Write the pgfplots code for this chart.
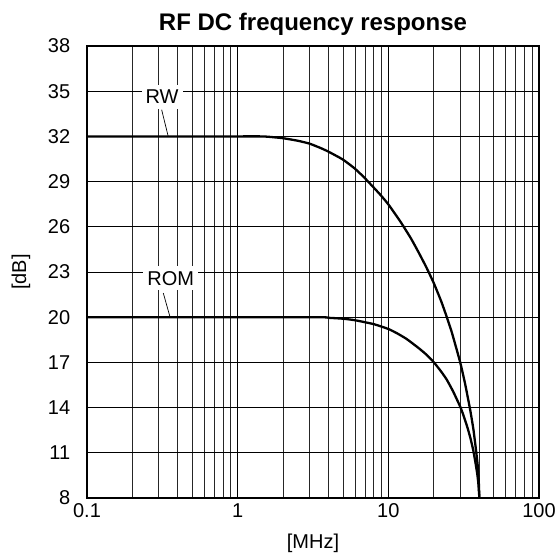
\documentclass[border=0pt]{standalone}
\usepackage{pgfplots}
\pgfplotsset{compat=1.18}
\usepackage{fontspec}
\setmainfont{Liberation Sans}
\begin{document}
\fontsize{20bp}{24bp}\selectfont
\begin{tikzpicture}
\begin{semilogxaxis}[
  scale only axis,
  width=452bp, height=452bp,
  xmin=0.1, xmax=100, ymin=8, ymax=38,
  ytick={8,11,14,17,20,23,26,29,32,35,38},
  xtick={0.1,1,10,100},
  xticklabels={0.1,1,10,100},
  grid=both,
  major grid style={black, line width=0.8pt},
  minor grid style={black!85, line width=0.8pt},
  major tick length=0pt, minor tick length=0pt,
  axis line style={black, line width=1.6pt},
  /pgf/number format/assume math mode=true,
  tick label style={font=\fontsize{20bp}{24bp}\selectfont},
  xticklabel style={yshift=1bp},
  yticklabel style={xshift=-10bp},
  title={\textbf{RF DC frequency response}},
  title style={font=\fontsize{24bp}{28bp}\selectfont, yshift=-2bp},
  xlabel={[MHz]}, ylabel={[dB]},
  xlabel style={font=\fontsize{20bp}{24bp}\selectfont, yshift=-2bp},
  ylabel style={font=\fontsize{20bp}{24bp}\selectfont, yshift=4bp},
  clip=true,
]
\addplot[black, line width=2.3pt, smooth, tension=0.3] coordinates {
 (0.1,32) (1.0,32) (1.41,32.0) (1.58,31.98) (2.0,31.88) (2.51,31.71) (3.0,31.52)
 (3.55,31.23) (4.0,30.99) (5.0,30.46) (6.0,29.86) (7.0,29.22) (8.79,28.16)
 (10,27.49) (12,26.36) (14.13,25.23) (15.85,24.32) (17.78,23.36) (20,22.28)
 (22.39,21.08) (23.99,20.24) (26.3,19.04) (30,17.0) (32.36,15.56) (35,13.81)
 (36.7,12.56) (38.0,11.36) (39.1,10.28) (39.8,9.2) (40.2,8.0)
};
\addplot[black, line width=2.3pt, smooth, tension=0.3] coordinates {
 (0.1,20) (3.16,20.0) (4.0,19.96) (5.01,19.90) (6.0,19.80) (8.0,19.54)
 (10,19.22) (11.48,18.92) (13.2,18.56) (15.85,17.96) (17.78,17.54) (20,17.02)
 (22.39,16.4) (24.4,15.86) (26.9,15.08) (30,14.06) (31.6,13.46) (33.5,12.68)
 (35.1,11.96) (36.6,11.18) (37.8,10.4) (38.9,9.62) (39.6,8.96) (40.2,8.0)
};
\draw[black, line width=0.7pt] (axis cs:0.313,33.77) -- (axis cs:0.346,32);
\node[fill=white, inner xsep=4bp, inner ysep=5bp, font=\fontsize{20bp}{24bp}\selectfont] at (axis cs:0.315,34.61) {RW};
\draw[black, line width=0.7pt] (axis cs:0.321,21.6) -- (axis cs:0.356,20);
\node[fill=white, inner xsep=4bp, inner ysep=5bp, font=\fontsize{20bp}{24bp}\selectfont] at (axis cs:0.36,22.59) {ROM};
\end{semilogxaxis}
\pgfresetboundingbox
\path (current axis.south west) ++(-87bp,-60bp) rectangle ++(558bp,558bp);
\end{tikzpicture}
\end{document}
